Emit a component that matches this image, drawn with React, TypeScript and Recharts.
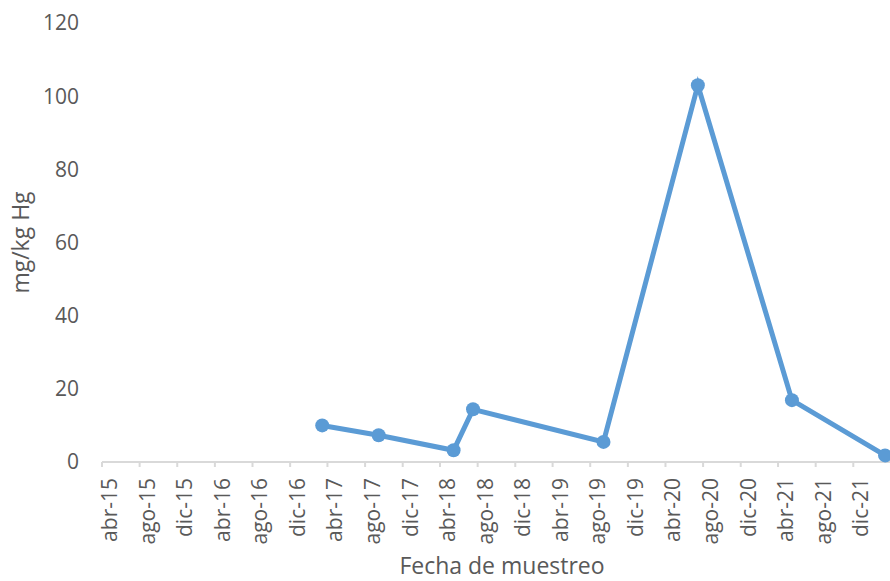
import React from 'react'
import { LineChart, Line, XAxis, YAxis } from 'recharts'

const tickLabels = [
  'abr-15', 'ago-15', 'dic-15', 'abr-16', 'ago-16', 'dic-16', 'abr-17',
  'ago-17', 'dic-17', 'abr-18', 'ago-18', 'dic-18', 'abr-19', 'ago-19',
  'dic-19', 'abr-20', 'ago-20', 'dic-20', 'abr-21', 'ago-21', 'dic-21',
]
const yTicks = [0, 20, 40, 60, 80, 100, 120]

const sampleDates = [
  '2017-03-15', '2017-09-14', '2018-05-15', '2018-07-17',
  '2019-09-13', '2020-07-15', '2021-05-16', '2022-03-14',
]
const hgValues = [10.0, 7.3, 3.2, 14.4, 5.5, 103.0, 16.9, 1.8]

const monthIndex: Record<string, number> = {
  ene: 0, feb: 1, mar: 2, abr: 3, may: 4, jun: 5,
  jul: 6, ago: 7, sep: 8, oct: 9, nov: 10, dic: 11,
}

const tickValues = tickLabels.map((l) => {
  const [m, y] = l.split('-')
  return Date.UTC(2000 + Number(y), monthIndex[m], 1)
})

const data = sampleDates.map((d, i) => ({ t: Date.parse(d), hg: hgValues[i] }))

const xMin = Date.UTC(2015, 3, 1)
const xMax = Date.UTC(2022, 2, 30)

const textColor = '#595959'
const lineColor = '#5B9BD5'

const YTitle = (props: any) => {
  const vb = props.viewBox
  const cy = vb.y + vb.height / 2
  return (
    <text x={20} y={cy} transform={`rotate(-90 20 ${cy})`} textAnchor="middle" dominantBaseline="central"
      fill={textColor} fontSize={23}>
      mg/kg Hg
    </text>
  )
}

const XTitle = () => (
  <text x={502} y={574} textAnchor="middle" fill={textColor} fontSize={23}>
    Fecha de muestreo
  </text>
)

const App: React.FC = () => {
  return (
    <div style={{ position: 'absolute', left: 0, top: 0, width: 890, height: 581, fontFamily: '"Open Sans", sans-serif', background: '#fff' }}>
      <LineChart width={890} height={581} data={data} margin={{ top: 23, right: 0, left: 0, bottom: 0 }}>
        <XAxis
          dataKey="t"
          type="number"
          domain={[xMin, xMax]}
          allowDataOverflow
          ticks={tickValues}
          interval={0}
          tickFormatter={(v) => tickLabels[tickValues.indexOf(v)]}
          height={119}
          stroke="#D9D9D9"
          strokeWidth={2}
          tickSize={5}
          tickMargin={11}
          angle={-90}
          textAnchor="end"
          tick={{ fill: textColor, fontSize: 21 }}
          label={<XTitle />}
        />
        <YAxis
          type="number"
          domain={[0, 120]}
          ticks={yTicks}
          interval={0}
          width={102}
          axisLine={false}
          tickLine={false}
          tickSize={0}
          tickMargin={23}
          tick={{ fill: textColor, fontSize: 21 }}
          label={<YTitle />}
        />
        <Line
          type="linear"
          dataKey="hg"
          stroke={lineColor}
          strokeWidth={5}
          dot={{ r: 7, fill: lineColor, stroke: lineColor, strokeWidth: 0 }}
          activeDot={false}
          isAnimationActive={false}
        />
      </LineChart>
    </div>
  )
}

export default App
